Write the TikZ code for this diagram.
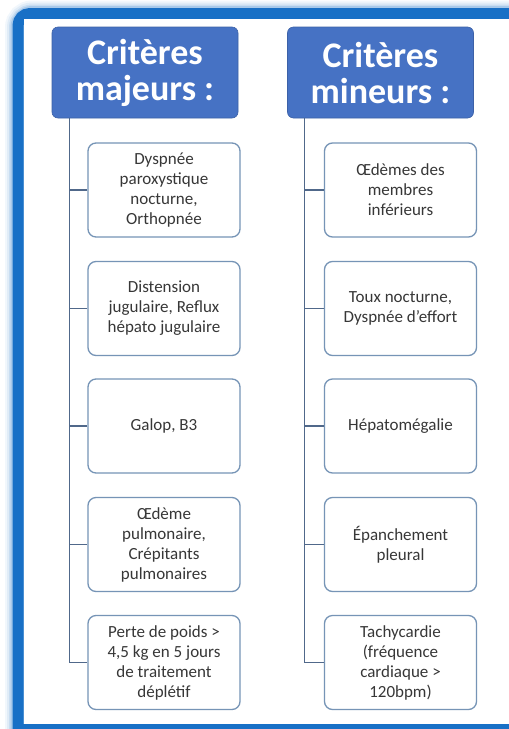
\documentclass[tikz,border=0pt]{standalone}
\usepackage{fontspec}
\setmainfont{Carlito}
\begin{document}
\begin{tikzpicture}[x=1pt,y=-1pt,
  hdr/.style={fill=hdrblue, draw=hdrblue!85!black, line width=0.6pt,
    rounded corners=6pt, minimum width=186pt, minimum height=91pt,
    inner sep=0pt, align=center, text=white,
    font=\fontsize{36}{36}\selectfont\bfseries},
  item/.style={fill=white, draw=boxline, line width=1.3pt,
    rounded corners=8pt, minimum width=152pt, minimum height=94pt,
    inner sep=0pt, align=center, text=txtgray,
    font=\fontsize{17}{20}\selectfont},
  stem/.style={draw=stemcol, line width=1.3pt}]
\definecolor{frameblue}{RGB}{24,112,198}
\definecolor{hdrblue}{RGB}{70,114,196}
\definecolor{boxline}{RGB}{118,148,182}
\definecolor{stemcol}{RGB}{80,104,138}
\definecolor{txtgray}{RGB}{55,55,55}

\useasboundingbox (0,0) rectangle (509,729);

% soft glow along the top and left sides of the frame
\foreach \w/\o in {26/0.06,22/0.08,18/0.12,15/0.18}
  \draw[frameblue, line width=\w pt, opacity=\o, rounded corners=14pt]
    (18,729) -- (18,13.5) -- (509,13.5);
% the blue frame itself
\draw[frameblue, line width=11pt, rounded corners=12pt]
  (18,729) -- (18,13.5) -- (509,13.5);
\fill[frameblue] (12.5,723.5) rectangle (509,729);
\fill[white] (23.5,19) rectangle (509,723.5);

% column headers
\node[hdr] (hdrL) at (145,72.5) {Critères\\majeurs :};
\node[hdr] (hdrR) at (380.5,72.5) {Critères\\mineurs :};

% major criteria
\node[item] (L1) at (164,190) {Dyspnée\\paroxystique\\nocturne,\\Orthopnée};
\node[item] (L2) at (164,308.5) {Distension\\jugulaire, Reflux\\hépato jugulaire};
\node[item] (L3) at (164,426) {Galop, B3};
\node[item] (L4) at (164,544.5) {Œdème\\pulmonaire,\\Crépitants\\pulmonaires};
\node[item] (L5) at (164,662.5) {Perte de poids >\\4,5 kg en 5 jours\\de traitement\\déplétif};

% minor criteria
\node[item] (R1) at (400.5,190) {Œdèmes des\\membres\\inférieurs};
\node[item] (R2) at (400.5,308.5) {Toux nocturne,\\Dyspnée d'effort};
\node[item] (R3) at (400.5,426) {Hépatomégalie};
\node[item] (R4) at (400.5,544.5) {Épanchement\\pleural};
\node[item] (R5) at (400.5,662.5) {Tachycardie\\(fréquence\\cardiaque >\\120bpm)};

% trunks and branches
\coordinate (tL) at ([xshift=18pt]hdrL.south west);
\coordinate (tR) at ([xshift=17pt]hdrR.south west);
\draw[stem] (tL) |- (L5.west);
\draw[stem] (tR) |- (R5.west);
\foreach \n in {L1,L2,L3,L4}
  \draw[stem] (\n.west) -- (\n.west -| tL);
\foreach \n in {R1,R2,R3,R4}
  \draw[stem] (\n.west) -- (\n.west -| tR);
\end{tikzpicture}
\end{document}
